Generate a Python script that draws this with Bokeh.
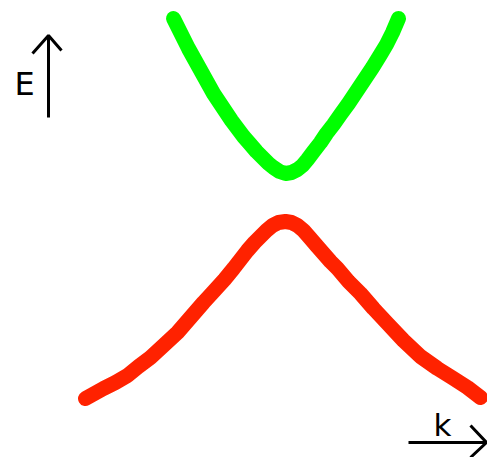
from bokeh.plotting import figure
from bokeh.models import Range1d
from bokeh.embed import file_html
from bokeh.resources import INLINE
from bokeh.core.properties import value

# Conduction band (upper, green) sampled along k
cb_k = [173, 178, 183, 188, 193, 198, 203, 208, 213, 219, 225, 231, 237,
        243, 250, 256, 263, 268, 273, 279, 285, 291, 297, 302, 307, 313,
        320, 326, 333, 340, 348, 356, 364, 372, 380, 386, 392, 398]
cb_E = [18, 28, 38, 48, 57, 66, 75, 84, 93, 102, 111, 120, 128,
        136, 144, 151, 158, 163, 167, 171, 173, 172, 169, 165, 159, 151,
        142, 133, 124, 114, 103, 91, 79, 67, 54, 44, 32, 18]

# Valence band (lower, red)
vb_k = [85, 94, 103, 115, 127, 138, 150, 163, 177, 190, 203, 214, 224,
        233, 240, 247, 254, 260, 266, 272, 278, 285, 291, 297, 303, 310,
        316, 323, 330, 337, 348, 360, 373, 387, 403, 420, 437, 453, 467, 480]
vb_E = [398, 393, 388, 382, 375, 366, 357, 345, 332, 317, 302, 290, 279,
        268, 259, 250, 242, 236, 230, 225, 222, 221, 222, 225, 230, 238,
        245, 253, 261, 268, 281, 293, 308, 323, 340, 356, 368, 378, 387, 397]

# Axis arrows: shaft and head for energy (E) and momentum (k)
E_shaft_x = [48, 48]
E_shaft_y = [117, 35]
E_head_x = [32, 48, 61]
E_head_y = [53, 35, 50]

k_shaft_x = [408, 486]
k_shaft_y = [442, 442]
k_head_x = [470, 486, 470]
k_head_y = [425, 442, 457]

W, H = 487, 457
p = figure(width=W, height=H, output_backend="svg", toolbar_location=None,
           x_range=Range1d(0, W), y_range=Range1d(H, 0),
           min_border=0, outline_line_color=None)
p.axis.visible = False
p.grid.visible = False
p.background_fill_color = "white"
p.border_fill_color = "white"

p.line(cb_k, cb_E, line_color="#00FF00", line_width=15,
       line_cap="round", line_join="round")
p.line(vb_k, vb_E, line_color="#FF2200", line_width=15,
       line_cap="round", line_join="round")

for xs, ys in [(E_shaft_x, E_shaft_y), (E_head_x, E_head_y),
               (k_shaft_x, k_shaft_y), (k_head_x, k_head_y)]:
    p.line(xs, ys, line_color="black", line_width=3)

p.text(x=[14], y=[83], text=["E"], text_font=value("DejaVu Sans"),
       text_font_size="32px", text_color="black",
       text_align="left", text_baseline="alphabetic")
p.text(x=[433], y=[424], text=["k"], text_font=value("DejaVu Sans"),
       text_font_size="31px", text_color="black",
       text_align="left", text_baseline="alphabetic")

open("out.html", "w").write(file_html(p, INLINE))
